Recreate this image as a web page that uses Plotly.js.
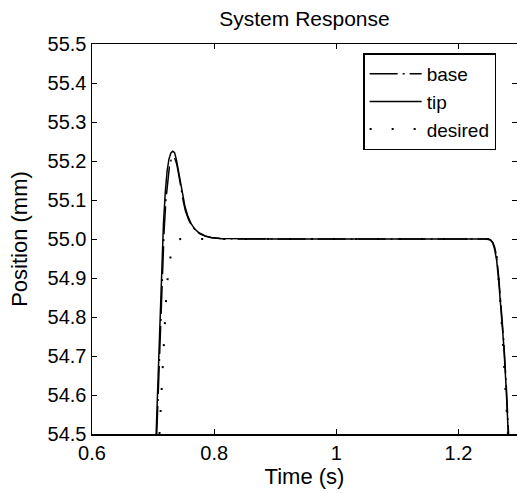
<!DOCTYPE html>
<html>
<head>
<meta charset="utf-8">
<script src="https://cdn.plot.ly/plotly-3.0.1.min.js"></script>
<style>html,body{margin:0;padding:0;background:#fff;}#chart{width:517px;height:493px;}</style>
</head>
<body>
<div id="chart"></div>
<script>
// Time values (s) and positions (mm)
const tipT = [0.705,0.708,0.711,0.714,0.717,0.720,0.723,0.726,0.729,0.732,0.735,0.738,0.741,0.744,0.748,0.752,0.757,0.762,0.768,0.775,0.785,0.795,0.810,0.850,0.900,1.000,1.100,1.200,1.245,1.252,1.256,1.259,1.2625,1.266,1.270,1.274,1.278,1.2815];
const tipY = [54.50,54.65,54.80,54.93,55.04,55.12,55.175,55.205,55.22,55.225,55.222,55.205,55.18,55.15,55.115,55.085,55.058,55.04,55.026,55.016,55.008,55.004,55.001,55.0,55.0,55.0,55.0,55.0,55.0,54.998,54.99,54.975,54.945,54.89,54.82,54.73,54.62,54.50];

const baseT = [0.706,0.709,0.712,0.715,0.718,0.721,0.724,0.727,0.730,0.733,0.736,0.739,0.742,0.745,0.749,0.753,0.758,0.763,0.769,0.776,0.786,0.796,0.810,0.850,1.000,1.200,1.245,1.252,1.256,1.259,1.2625,1.266,1.270,1.274,1.278,1.282];
const baseY = [54.50,54.64,54.78,54.91,55.02,55.10,55.155,55.19,55.205,55.21,55.205,55.19,55.165,55.135,55.10,55.072,55.05,55.035,55.023,55.014,55.007,55.003,55.001,55.0,55.0,55.0,55.0,54.998,54.992,54.98,54.955,54.90,54.83,54.74,54.63,54.50];

const desT = [0.7105,0.713,0.716,0.719,0.722,0.725,0.728,0.732,0.736,0.740,0.745,0.800,0.900,1.000,1.100,1.200,1.252,1.256,1.260,1.263,1.266,1.269,1.272,1.275,1.278,1.281];
const desY = [54.50,54.58,54.70,54.79,54.87,54.915,54.95,54.975,54.99,54.998,55.0,55.0,55.0,55.0,55.0,55.0,55.0,54.995,54.98,54.95,54.90,54.83,54.75,54.67,54.59,54.50];

const xTicks = [0.6, 0.8, 1.0, 1.2];
const xTickText = ['0.6', '0.8', '1', '1.2'];
const yTicks = [54.5,54.6,54.7,54.8,54.9,55.0,55.1,55.2,55.3,55.4,55.5];

const FONT = 'Liberation Sans, Arial, Helvetica, sans-serif';

const traces = [
  {x: baseT, y: baseY, name: 'base', mode: 'lines', type: 'scatter',
   line: {color: '#000', width: 1.5, dash: '28px,5px,2px,5px'}},
  {x: tipT, y: tipY, name: 'tip', mode: 'lines', type: 'scatter',
   line: {color: '#000', width: 1.5}},
  {x: desT, y: desY, name: 'desired', mode: 'lines', type: 'scatter',
   line: {color: '#000', width: 2, dash: '2px,20px'}},
  // invisible trace carrying the right-side tick marks
  {x: [0.6], y: [55], yaxis: 'y2', mode: 'markers', marker: {opacity: 0},
   showlegend: false, hoverinfo: 'skip'}
];

const layout = {
  width: 517, height: 493,
  margin: {l: 92, r: 0, t: 44, b: 59},
  paper_bgcolor: '#fff', plot_bgcolor: '#fff',
  font: {family: FONT, color: '#000', size: 20},
  showlegend: true,
  title: {text: 'System Response', font: {family: FONT, size: 21, color: '#000'},
          x: 0.5, xref: 'paper', y: 0.963, yref: 'container', yanchor: 'middle'},
  xaxis: {
    range: [0.6, 1.2958], tickvals: xTicks, ticktext: xTickText,
    ticks: 'inside', ticklen: 5, tickwidth: 1, tickcolor: '#000',
    showline: true, linecolor: '#000', linewidth: 1.5, mirror: 'ticks',
    showgrid: false, zeroline: false,
    tickfont: {family: FONT, size: 20, color: '#000'},
    title: {text: 'Time (s)', font: {family: FONT, size: 22, color: '#000'}, standoff: 6}
  },
  yaxis: {
    range: [54.5, 55.5], tickvals: yTicks, tickformat: '.1f',
    ticks: 'inside', ticklen: 5, tickwidth: 1, tickcolor: '#000',
    showline: true, linecolor: '#000', linewidth: 1.5, mirror: false,
    showgrid: false, zeroline: false,
    tickfont: {family: FONT, size: 20, color: '#000'},
    title: {text: 'Position (mm)', font: {family: FONT, size: 22, color: '#000'}, standoff: 14}
  },
  yaxis2: {
    overlaying: 'y', side: 'right', range: [54.5, 55.5], tickvals: yTicks,
    ticks: 'inside', ticklen: 5, tickwidth: 1, tickcolor: '#000',
    showticklabels: false, showline: false, showgrid: false, zeroline: false
  },
  legend: {
    x: 0.638, y: 0.976, xanchor: 'left', yanchor: 'top',
    bgcolor: '#fff', bordercolor: '#000', borderwidth: 1.5,
    font: {family: FONT, size: 19, color: '#000'},
    itemwidth: 52, tracegroupgap: 0
  }
};

Plotly.newPlot('chart', traces, layout, {staticPlot: true, displayModeBar: false});
</script>
</body>
</html>
